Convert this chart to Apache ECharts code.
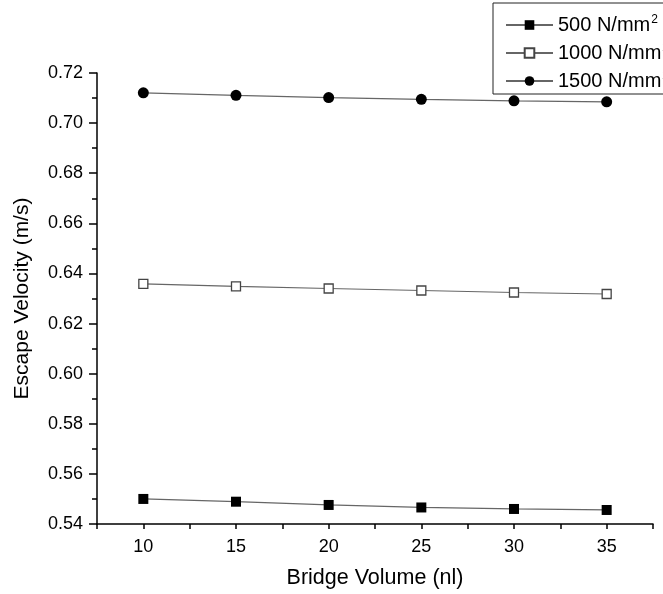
<!DOCTYPE html>
<html>
<head>
<meta charset="utf-8">
<script src="https://cdn.jsdelivr.net/npm/echarts@6/dist/echarts.min.js"></script>
<style>
  html, body { margin: 0; padding: 0; background: #fff; }
  #chart { width: 663px; height: 594px; }
</style>
</head>
<body>
<div id="chart"></div>
<script>
var volumes = [10, 15, 20, 25, 30, 35]
var v500 = [0.5500, 0.5489, 0.5476, 0.5466, 0.5460, 0.5456]
var v1000 = [0.6358, 0.6348, 0.6340, 0.6332, 0.6324, 0.6318]
var v1500 = [0.7121, 0.7111, 0.7102, 0.7095, 0.7089, 0.7085]
var seriesNames = ['500 N/mm2', '1000 N/mm2', '1500 N/mm2']

var font = "'Liberation Sans', Arial, sans-serif"

function pairs (ys) {
  return volumes.map(function (x, i) { return [x, ys[i]] })
}

var chart = echarts.init(document.getElementById('chart'))
chart.setOption({
  animation: false,
  backgroundColor: '#fff',
  grid: { left: 97, top: 73, right: 10, bottom: 70 },
  legend: {
    orient: 'vertical',
    left: 493,
    top: 3,
    padding: [11, 10, 3, 12],
    itemGap: 7,
    itemWidth: 47,
    itemHeight: 12,
    borderColor: '#222',
    borderWidth: 1,
    data: seriesNames,
    formatter: function (name) {
      return '{a|' + name.slice(0, -1) + '}{s|2}'
    },
    textStyle: {
      rich: {
        a: { fontFamily: font, fontSize: 20, color: '#000', lineHeight: 22 },
        s: { fontFamily: font, fontSize: 12, color: '#000', verticalAlign: 'top', lineHeight: 22, padding: [0, 0, 8, 1] }
      }
    }
  },
  xAxis: {
    type: 'value',
    min: 7.5,
    max: 37.5,
    interval: 2.5,
    name: 'Bridge Volume (nl)',
    nameLocation: 'middle',
    nameGap: 43,
    nameTextStyle: { fontFamily: font, fontSize: 21.5, color: '#000' },
    axisLine: { show: true, lineStyle: { color: '#000', width: 1.5 } },
    axisTick: { show: true, length: 5, lineStyle: { color: '#000', width: 1.5 } },
    splitLine: { show: false },
    axisLabel: {
      margin: 14,
      fontFamily: font,
      fontSize: 18,
      color: '#000',
      formatter: function (v) { return v % 5 === 0 ? String(v) : '' }
    }
  },
  yAxis: {
    type: 'value',
    min: 0.54,
    max: 0.72,
    interval: 0.02,
    name: 'Escape Velocity (m/s)',
    nameLocation: 'middle',
    nameGap: 64,
    nameTextStyle: { fontFamily: font, fontSize: 21, color: '#000' },
    axisLine: { show: true, lineStyle: { color: '#000', width: 1.5 } },
    axisTick: { show: true, length: 8, lineStyle: { color: '#000', width: 1.5 } },
    minorTick: { show: true, splitNumber: 2, length: 5, lineStyle: { color: '#000', width: 1.5 } },
    splitLine: { show: false },
    axisLabel: {
      margin: 14,
      fontFamily: font,
      fontSize: 18,
      color: '#000',
      formatter: function (v) { return v.toFixed(2) }
    }
  },
  series: [
    {
      name: seriesNames[0],
      type: 'line',
      data: pairs(v500),
      symbol: 'rect',
      symbolSize: 10,
      itemStyle: { color: '#000' },
      lineStyle: { color: '#666', width: 1.2 }
    },
    {
      name: seriesNames[1],
      type: 'line',
      data: pairs(v1000),
      symbol: 'rect',
      symbolSize: 9,
      itemStyle: { color: '#fff', borderColor: '#444', borderWidth: 1.3 },
      lineStyle: { color: '#666', width: 1.2 }
    },
    {
      name: seriesNames[2],
      type: 'line',
      data: pairs(v1500),
      symbol: 'circle',
      symbolSize: 11,
      itemStyle: { color: '#000' },
      lineStyle: { color: '#666', width: 1.2 }
    }
  ]
})
</script>
</body>
</html>
